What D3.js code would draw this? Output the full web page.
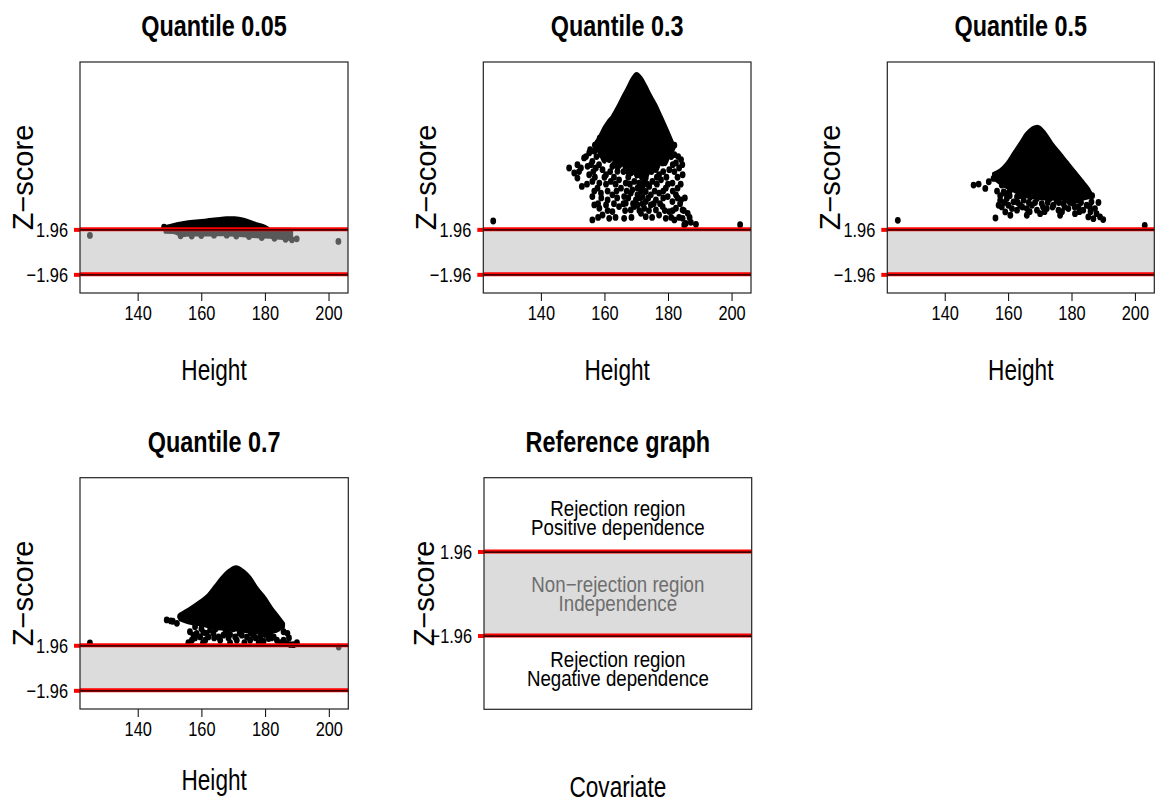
<!DOCTYPE html>
<html>
<head>
<meta charset="utf-8">
<script src="https://cdn.jsdelivr.net/npm/d3@7"></script>
<style>
  body { margin: 0; background: #fff; }
  svg { display: block; }
</style>
</head>
<body>
<svg id="chart" width="1160" height="805"></svg>
<script>
// ---------------------------------------------------------------
// Data: Z-scores of the quantile dependence test against Height
// ---------------------------------------------------------------
const quantileTitles = ["Quantile 0.05", "Quantile 0.3", "Quantile 0.5", "Quantile 0.7"];
const heightTicks = [140, 160, 180, 200];
const zTicks = [-1.96, 1.96];
const heightLimits = [125, 203];
const zLimits = [-2.84, 15.8];
const refZLimits = [-5, 5];

// Dense part of each cloud: [height, lower z, upper z]
const q05CloudAbove = [
  [148.6, 1.96, 2.2], [150.2, 1.96, 2.3], [152.3, 1.96, 2.45], [155.4, 1.96, 2.6],
  [158.5, 1.96, 2.7], [161.7, 1.96, 2.78], [164.8, 1.96, 2.88], [168.0, 1.96, 2.97],
  [170.6, 1.96, 2.97], [172.2, 1.96, 2.9], [174.3, 1.96, 2.76], [176.9, 1.96, 2.5],
  [179.5, 1.96, 2.28], [181.1, 1.96, 2.05]
];
const q05CloudBelow = [
  [148.6, 1.7, 1.96], [151.2, 1.68, 1.96], [154.3, 1.42, 1.96], [156.4, 1.46, 1.96],
  [161.7, 1.46, 1.96], [166.9, 1.5, 1.96], [172.2, 1.42, 1.96], [177.4, 1.32, 1.96],
  [182.7, 1.24, 1.96], [185.8, 1.17, 1.96], [188.4, 1.08, 1.96]
];
const q30Cloud = [
  [157.0, 9.0, 9.4], [158.5, 8.6, 10.1], [160.0, 7.8, 10.9], [161.2, 8.4, 11.4],
  [162.5, 8.2, 11.84], [164.1, 7.2, 12.63], [165.7, 7.6, 13.51], [167.3, 6.8, 14.33],
  [168.8, 7.4, 15.14], [170.1, 6.5, 15.55], [171.5, 7.0, 15.2], [173.0, 6.4, 14.47],
  [174.6, 7.2, 13.6], [176.2, 7.0, 12.8], [177.8, 7.8, 11.84], [179.1, 7.6, 11.05],
  [180.4, 8.4, 10.23], [181.5, 8.8, 9.5]
];
const q50Cloud = [
  [155.4, 6.4, 6.84], [157.5, 5.96, 7.13], [159.6, 5.6, 7.72], [161.7, 5.3, 8.6],
  [163.8, 5.0, 9.47], [165.9, 4.8, 10.35], [169.3, 4.7, 10.95], [171.7, 4.6, 10.35],
  [173.8, 4.6, 9.47], [176.4, 4.6, 8.6], [178.5, 4.55, 7.87], [181.1, 4.5, 6.99],
  [183.2, 4.55, 6.26], [185.3, 4.7, 5.53], [186.3, 4.79, 5.03]
];
const q70Cloud = [
  [153.3, 4.17, 4.67], [156.5, 3.87, 5.2], [159.6, 3.73, 5.79], [162.2, 3.58, 6.38],
  [164.3, 3.43, 7.12], [166.4, 3.37, 7.86], [168.5, 3.28, 8.45], [170.9, 3.28, 8.8],
  [173.2, 3.19, 8.45], [175.3, 3.14, 7.86], [177.4, 3.08, 6.97], [180.0, 2.99, 6.09],
  [182.1, 3.08, 5.2], [184.2, 3.28, 4.46], [185.8, 3.67, 3.87]
];

// Individual observations: [height, z]
const q05Points = [
  [125.0, 1.43], [148.3, 2.15], [153.5, 1.4], [157.0, 1.38], [160.0, 1.42], [164.0, 1.45],
  [168.0, 1.45], [171.0, 1.38], [175.0, 1.33], [179.0, 1.25], [183.0, 1.18], [186.5, 1.1],
  [188.5, 1.05], [190.0, 1.14], [203.1, 0.91]
];
const q30Points = [
  [125.0, 2.69], [202.7, 2.37],
  [158.5, 9.9], [160.2, 9.9], [163.5, 9.9], [167.8, 9.9], [171.2, 9.9], [175.8, 9.9], [179.0, 9.9],
  [157.8, 9.5], [159.4, 9.79], [161.0, 9.94], [162.5, 9.79], [164.1, 9.5], [166.2, 9.65],
  [168.3, 9.79], [170.4, 9.94], [172.5, 9.79], [174.1, 9.65], [175.7, 9.5], [177.2, 9.5],
  [178.8, 9.79], [180.4, 9.5], [181.4, 9.06], [158.4, 9.06], [161.5, 9.21], [165.2, 9.06],
  [169.9, 9.21], [172.0, 9.06], [176.2, 9.06], [179.3, 9.06],
  [157.0, 9.3], [160.0, 9.3], [163.0, 9.3], [167.5, 9.3], [171.5, 9.3], [173.5, 9.3], [178.0, 9.3], [182.0, 9.3],
  [155.5, 8.9], [159.5, 8.9], [162.0, 8.9], [164.5, 8.9], [168.0, 8.9], [174.0, 8.9], [176.5, 8.9], [180.5, 8.9],
  [153.6, 8.19], [155.2, 8.62], [156.8, 8.77], [158.9, 8.48], [160.5, 8.77], [163.1, 8.62],
  [166.2, 8.48], [169.9, 8.62], [171.5, 8.33], [173.6, 8.62], [175.1, 8.33], [177.2, 8.48],
  [179.3, 8.19], [182.0, 8.48], [156.2, 7.89], [161.5, 8.04], [164.6, 8.04], [170.4, 7.89],
  [173.0, 7.89], [178.3, 7.75], [182.5, 7.75], [184.1, 8.04],
  [154.2, 8.3], [157.5, 8.3], [162.0, 8.3], [167.8, 8.3], [172.5, 8.3], [178.0, 8.3], [181.0, 8.3], [183.2, 8.3],
  [151.5, 7.6], [155.8, 7.6], [158.3, 7.6], [163.0, 7.6], [168.0, 7.6], [171.2, 7.6], [174.8, 7.6], [181.5, 7.6], [184.5, 7.6],
  [148.9, 7.31], [150.5, 6.87], [152.6, 7.31], [154.7, 7.45], [157.3, 7.31], [159.4, 7.16],
  [162.5, 7.45], [164.1, 7.02], [166.7, 7.31], [170.4, 7.31], [172.0, 7.16], [173.6, 7.02],
  [176.2, 7.31], [180.4, 7.16], [183.5, 7.31], [155.2, 6.72], [160.5, 6.72], [168.3, 6.87],
  [170.9, 6.72], [177.2, 6.72], [184.6, 6.72], [168.8, 7.31],
  [152.0, 7.0], [156.5, 7.0], [161.8, 7.0], [166.0, 7.0], [169.5, 7.0], [174.8, 7.0], [178.5, 7.0], [182.0, 7.0],
  [157.0, 6.5], [160.0, 6.5], [163.0, 6.5], [167.5, 6.5], [171.8, 6.5], [176.5, 6.5], [179.5, 6.5], [183.0, 6.5],
  [151.5, 6.43], [152.9, 5.7], [156.2, 6.14], [158.4, 5.99], [162.0, 6.14], [164.6, 6.28],
  [166.7, 5.99], [169.4, 6.14], [170.9, 5.99], [172.5, 6.14], [175.1, 6.14], [177.8, 6.28],
  [181.4, 5.99], [183.0, 5.55], [157.8, 5.55], [165.2, 5.55], [170.4, 5.55], [174.1, 5.7],
  [179.3, 5.55], [173.0, 6.43], [172.0, 5.7], [168.8, 5.41], [173.0, 5.26],
  [154.5, 5.9], [160.5, 5.9], [163.5, 5.9], [168.0, 5.9], [171.5, 5.9], [173.5, 5.9], [176.5, 5.9], [180.0, 5.9], [184.0, 5.9],
  [156.8, 5.3], [161.0, 5.3], [163.8, 5.3], [167.0, 5.3], [171.5, 5.3], [175.8, 5.3], [178.5, 5.3], [181.5, 5.3],
  [156.2, 4.82], [158.9, 5.12], [162.5, 4.97], [166.2, 4.82], [168.3, 5.12], [170.4, 4.97],
  [172.0, 4.82], [174.6, 4.97], [177.2, 5.12], [179.9, 4.82], [182.5, 4.97], [184.1, 4.53],
  [161.0, 4.53], [169.9, 4.53], [176.2, 4.53], [181.4, 4.38], [173.0, 4.38],
  [159.0, 4.7], [164.0, 4.7], [167.5, 4.7], [171.2, 4.7], [173.8, 4.7], [178.5, 4.7], [183.0, 4.7], [185.3, 4.7],
  [158.0, 4.2], [163.0, 4.2], [166.0, 4.2], [169.0, 4.2], [172.0, 4.2], [175.5, 4.2], [177.5, 4.2], [183.8, 4.2],
  [156.8, 4.09], [158.4, 3.8], [160.5, 4.09], [162.5, 3.51], [164.6, 3.95], [166.7, 4.24],
  [168.3, 3.65], [170.4, 4.09], [172.5, 3.8], [174.6, 4.09], [176.2, 3.65], [178.3, 3.95],
  [180.4, 3.51], [182.5, 3.8], [184.6, 3.65], [186.2, 3.36], [159.4, 3.21], [171.5, 3.36],
  [177.2, 3.21], [169.4, 3.95],
  [161.0, 3.6], [166.5, 3.6], [171.0, 3.6], [174.0, 3.6], [179.0, 3.6], [181.5, 3.6], [185.0, 3.6],
  [158.0, 3.0], [163.5, 3.0], [168.5, 3.0], [175.0, 3.0], [181.0, 3.0], [183.5, 3.0], [186.8, 3.0],
  [156.2, 2.78], [161.5, 2.92], [166.2, 2.92], [173.0, 3.07], [179.3, 2.92], [182.0, 2.78],
  [184.6, 2.92], [185.6, 2.48], [187.2, 2.57], [188.8, 2.4], [185.1, 2.34]
];
const q50Points = [
  [125.2, 2.75], [203.1, 2.31],
  [149.1, 5.82], [150.7, 5.91], [152.8, 5.53], [153.9, 6.11], [155.4, 6.4], [157.0, 6.55],
  [158.0, 5.82], [158.6, 5.23], [157.5, 4.5], [158.0, 3.92], [157.0, 4.06], [159.6, 4.65],
  [160.1, 4.06], [159.1, 3.48], [161.2, 3.77], [161.7, 4.36], [162.8, 3.63], [163.8, 4.06],
  [164.9, 4.5], [165.9, 3.77], [167.5, 4.06], [169.1, 3.63], [170.6, 4.21], [172.2, 3.77],
  [174.3, 4.06], [175.9, 3.63], [177.4, 4.21], [179.0, 3.77], [180.6, 4.21], [182.2, 3.92],
  [183.7, 3.63], [184.8, 4.06], [186.3, 4.36], [187.4, 3.77], [187.9, 3.33], [189.0, 3.04],
  [190.0, 2.81], [156.0, 2.95], [160.7, 3.19], [165.9, 3.19], [170.1, 3.33], [176.4, 3.19],
  [181.1, 3.33], [185.3, 3.04], [186.9, 2.89], [162.8, 4.79], [169.1, 4.65], [175.3, 4.5],
  [181.6, 4.5], [167.0, 4.79], [159.1, 5.09], [173.2, 4.65], [178.5, 4.5],
  [156.5, 5.3], [160.5, 5.3], [157.5, 4.9], [160.5, 4.9], [164.0, 4.9], [171.0, 4.9],
  [176.0, 4.9], [180.0, 4.9], [184.0, 4.9], [186.5, 4.9],
  [158.8, 4.3], [163.0, 4.3], [166.5, 4.3], [168.5, 4.3], [172.5, 4.3], [176.0, 4.3],
  [179.5, 4.3], [183.0, 4.3], [188.5, 4.3],
  [164.5, 3.9], [171.0, 3.9], [174.0, 3.9], [177.8, 3.9], [181.0, 3.9], [185.8, 3.9],
  [166.8, 3.5], [171.5, 3.5], [177.0, 3.5], [182.5, 3.5], [186.0, 3.5]
];
const q70Points = [
  [125.0, 2.16], [203.1, 1.81],
  [149.1, 4.17], [150.4, 4.08], [152.3, 3.87], [153.3, 4.46], [154.9, 4.61], [157.5, 4.32],
  [151.0, 4.05], [155.8, 4.35],
  [156.4, 3.14], [157.5, 2.84], [157.0, 2.4], [158.5, 2.99], [159.6, 2.69], [160.6, 3.08],
  [162.2, 2.69], [163.8, 2.99], [165.4, 2.69], [166.9, 2.84], [169.0, 2.9], [170.6, 2.69],
  [172.7, 2.84], [174.3, 2.69], [176.4, 2.84], [178.5, 2.69], [180.0, 2.9], [181.1, 2.55],
  [182.7, 2.69], [183.7, 2.4], [184.8, 2.19], [185.8, 2.4], [186.8, 2.1], [187.9, 2.02],
  [188.9, 2.01], [190.0, 2.19], [155.9, 2.19], [161.2, 2.4], [165.9, 2.4], [171.1, 2.4],
  [175.3, 2.4], [179.5, 2.31], [158.0, 3.58], [162.7, 3.28], [168.0, 3.14], [177.4, 3.19],
  [185.8, 3.14], [185.3, 3.58],
  [160.0, 3.4], [164.5, 3.4], [170.0, 3.4], [174.0, 3.4], [179.5, 3.4], [183.5, 3.4],
  [161.5, 3.0], [167.5, 3.0], [172.0, 3.0], [175.5, 3.0], [181.5, 3.0], [187.0, 3.0],
  [158.0, 2.6], [164.0, 2.6], [168.5, 2.6], [177.0, 2.6], [182.0, 2.6], [187.5, 2.6],
  [160.5, 2.2], [169.0, 2.2], [173.5, 2.2], [178.0, 2.2]
];

// Reference graph annotations
const refRegionText = [
  ["Rejection region", "Positive dependence"],
  ["Non\u2212rejection region", "Independence"],
  ["Rejection region", "Negative dependence"]
];
const refRegionZ = [3.5, 0, -3.5];

// ---------------------------------------------------------------
// Layout
// ---------------------------------------------------------------
const FONT = "'Liberation Sans', Arial, Helvetica, sans-serif";
const SX = 0.78;              // horizontal squeeze of the horizontal lettering
const CRIT = 1.96;

const boxes = [
  { l: 80,    r: 348,    t: 62,    b: 293,   xlab: 87 },
  { l: 483.3, r: 751,    t: 62,    b: 293,   xlab: 87 },
  { l: 887.3, r: 1154.3, t: 62,    b: 293,   xlab: 87 },
  { l: 80,    r: 348.3,  t: 477.7, b: 709,   xlab: 81 },
  { l: 484,   r: 751.7,  t: 477.7, b: 709.3, xlab: 88 }
];

const svg = d3.select("#chart");
svg.append("rect").attr("width", 1160).attr("height", 805).attr("fill", "#fff");

function padded(lim) {
  const d = (lim[1] - lim[0]) * 0.04;
  return [lim[0] - d, lim[1] + d];
}
const fmtZ = d => (d < 0 ? "\u2212" : "") + Math.abs(d).toFixed(2);

function squeezedText(g, x, y, str, size, opts = {}) {
  const sx = opts.sx || SX;
  return g.append("text")
    .attr("transform", `translate(${x},${y}) scale(${sx},1)`)
    .attr("text-anchor", opts.anchor || "middle")
    .attr("font-family", FONT)
    .attr("font-size", size)
    .attr("font-weight", opts.bold ? "bold" : "normal")
    .attr("fill", opts.fill || "#000")
    .text(str);
}

function drawPanel(i, title, xLabel, yDomain, clouds, points, withXAxis) {
  const box = boxes[i];
  const g = svg.append("g");
  const x = d3.scaleLinear().domain(padded(heightLimits)).range([box.l, box.r]);
  const y = d3.scaleLinear().domain(padded(yDomain)).range([box.b, box.t]);

  const clipId = "clip" + i;
  g.append("clipPath").attr("id", clipId)
    .append("rect").attr("x", box.l).attr("y", box.t)
    .attr("width", box.r - box.l).attr("height", box.b - box.t);
  const inner = g.append("g").attr("clip-path", `url(#${clipId})`);

  // non-rejection band
  inner.append("rect")
    .attr("x", box.l).attr("width", box.r - box.l)
    .attr("y", y(CRIT)).attr("height", y(-CRIT) - y(CRIT))
    .attr("fill", "#dcdcdc");

  // dense clouds
  const area = d3.area()
    .x(d => x(d[0])).y0(d => y(d[1])).y1(d => y(d[2]))
    .curve(d3.curveMonotoneX);
  clouds.forEach(c => {
    const col = c.grey ? "#595959" : "#000";
    inner.append("path").datum(c.data).attr("d", area)
      .attr("fill", col).attr("stroke", col)
      .attr("stroke-width", 3).attr("stroke-linejoin", "round");
  });

  // individual points (slightly tall ellipses, like the squeezed plotting symbol)
  inner.selectAll("ellipse.pt").data(points).join("ellipse")
    .attr("class", "pt")
    .attr("cx", d => x(d[0])).attr("cy", d => y(d[1]))
    .attr("rx", 2.9).attr("ry", 3.4)
    .attr("fill", d => d[1] > CRIT ? "#000" : "#595959");

  // critical lines
  zTicks.forEach(z => {
    g.append("line").attr("x1", box.l).attr("x2", box.r)
      .attr("y1", y(z)).attr("y2", y(z))
      .attr("stroke", "#ff0000").attr("stroke-width", 4);
    g.append("line").attr("x1", box.l).attr("x2", box.r)
      .attr("y1", y(z) + 0.6).attr("y2", y(z) + 0.6)
      .attr("stroke", "#000").attr("stroke-width", 1.3);
  });

  // y axis: red ticks at the critical values
  const ay = g.append("g").attr("transform", `translate(${box.l},0)`)
    .call(d3.axisLeft(y).tickValues(zTicks).tickSize(6).tickFormat(fmtZ));
  ay.select(".domain").remove();
  ay.selectAll(".tick line").attr("stroke", "#ff0000").attr("stroke-width", 4);
  ay.selectAll(".tick text")
    .attr("x", 0).attr("dy", "0.35em")
    .attr("transform", `translate(-12,0) scale(${SX},1)`)
    .attr("font-family", FONT).attr("font-size", 21).attr("fill", "#000");
  ay.attr("font-size", 21).attr("font-family", FONT);

  // x axis
  if (withXAxis) {
    const ax = g.append("g").attr("transform", `translate(0,${box.b})`)
      .call(d3.axisBottom(x).tickValues(heightTicks).tickSize(8).tickPadding(4).tickFormat(d3.format("d")));
    ax.select(".domain").remove();
    ax.selectAll(".tick line").attr("stroke", "#000").attr("stroke-width", 1);
    ax.selectAll(".tick text")
      .attr("transform", `scale(${SX},1)`)
      .attr("font-family", FONT).attr("font-size", 21).attr("fill", "#000");
    ax.attr("font-size", 21).attr("font-family", FONT);
  }

  // frame
  g.append("rect")
    .attr("x", box.l).attr("y", box.t)
    .attr("width", box.r - box.l).attr("height", box.b - box.t)
    .attr("fill", "none").attr("stroke", "#222").attr("stroke-width", 1.2);

  // titles and labels
  const cx = (box.l + box.r) / 2;
  squeezedText(g, cx, box.t - 26, title, 30, { bold: true });
  squeezedText(g, cx, box.b + box.xlab, xLabel, 29);
  g.append("text")
    .attr("transform", `translate(${box.l - (i === 4 ? 50 : 47)},${(box.t + box.b) / 2}) rotate(-90)`)
    .attr("text-anchor", "middle")
    .attr("font-family", FONT).attr("font-size", 29).attr("fill", "#000")
    .text("Z\u2212score");

  return { g, x, y, box };
}

drawPanel(0, quantileTitles[0], "Height", zLimits,
  [{ data: q05CloudBelow, grey: true }, { data: q05CloudAbove }], q05Points, true);
drawPanel(1, quantileTitles[1], "Height", zLimits, [{ data: q30Cloud }], q30Points, true);
drawPanel(2, quantileTitles[2], "Height", zLimits, [{ data: q50Cloud }], q50Points, true);
drawPanel(3, quantileTitles[3], "Height", zLimits, [{ data: q70Cloud }], q70Points, true);

// Reference graph: two-line region descriptions, each one text element
const ref = drawPanel(4, "Reference graph", "Covariate", refZLimits, [], [], false);
refRegionText.forEach((lines, k) => {
  const yc = ref.y(refRegionZ[k]);
  const t = ref.g.append("text")
    .attr("transform", `translate(${(ref.box.l + ref.box.r) / 2},${yc - 2}) scale(0.85,1)`)
    .attr("text-anchor", "middle")
    .attr("font-family", FONT).attr("font-size", 22)
    .attr("fill", k === 1 ? "#6e6e6e" : "#000");
  lines.forEach((s, j) => {
    t.append("tspan").attr("x", 0).attr("y", j * 19).text(s);
  });
});
</script>
</body>
</html>
